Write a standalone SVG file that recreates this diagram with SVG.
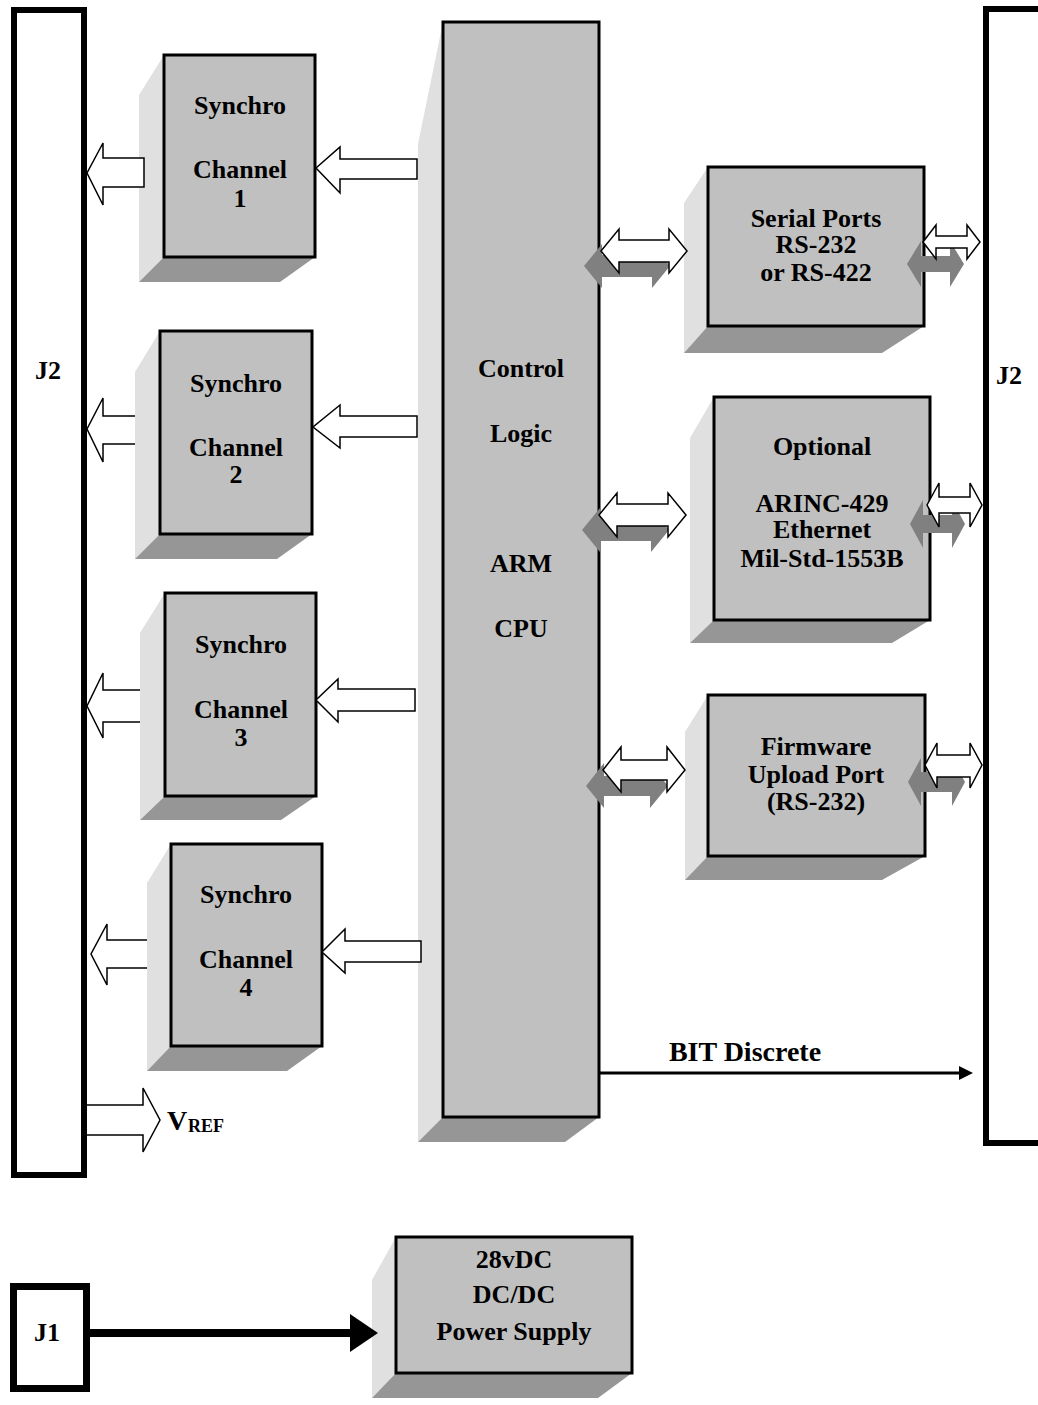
<svg xmlns="http://www.w3.org/2000/svg" width="1038" height="1405" viewBox="0 0 1038 1405">
<style>
.t{font-family:"Liberation Serif","Times New Roman",serif;font-weight:bold;font-size:26px;fill:#000;text-anchor:middle}
.front{fill:#c0c0c0;stroke:#000;stroke-width:3}
.lt{fill:#e0e0e0}
.dk{fill:#969696}
.bar{fill:#fff;stroke:#000;stroke-width:6}
.ha{fill:#fff;stroke:#000;stroke-width:1.5;stroke-linejoin:miter}
.ga{fill:#808080}
</style>
<rect width="1038" height="1405" fill="#fff"/>

<g id="j2-left">
<rect class="bar" x="14" y="10" width="70" height="1165"/>
<text class="t" x="48" y="379">J2</text>
</g>
<g id="j2-right">
<rect class="bar" x="986" y="9" width="70" height="1134"/>
<text class="t" x="1009" y="384">J2</text>
</g>

<g id="control-logic">
<polygon class="lt" points="418,144 443,22 443,1117 418,1142"/>
<polygon class="dk" points="418,1142 443,1117 599,1117 565,1142"/>
<rect class="front" x="443" y="22" width="156" height="1095"/>
<text class="t" x="521" y="377">Control</text>
<text class="t" x="521" y="442">Logic</text>
<text class="t" x="521" y="572">ARM</text>
<text class="t" x="521" y="637">CPU</text>
</g>

<g id="connectors-under">
<path class="ha" d="M150,416 L103,416 L103,398 L87,429 L103,462 L103,444 L150,444"/>
<path class="ha" d="M152,690 L103,690 L103,673 L87,706 L103,738 L103,722 L152,722"/>
<path class="ha" d="M160,940 L107,940 L107,924 L91,954 L107,985 L107,968 L160,968"/>
</g>

<g id="synchro-1">
<polygon class="lt" points="139,95 164,55 164,257 139,282"/>
<polygon class="dk" points="139,282 164,257 315,257 280,282"/>
<rect class="front" x="164" y="55" width="151" height="202"/>
<text class="t" x="240" y="114">Synchro</text>
<text class="t" x="240" y="178">Channel</text>
<text class="t" x="240" y="207">1</text>
</g>
<g id="synchro-2">
<polygon class="lt" points="135,372 160,331 160,534 135,559"/>
<polygon class="dk" points="135,559 160,534 312,534 277,559"/>
<rect class="front" x="160" y="331" width="152" height="203"/>
<text class="t" x="236" y="392">Synchro</text>
<text class="t" x="236" y="456">Channel</text>
<text class="t" x="236" y="483">2</text>
</g>
<g id="synchro-3">
<polygon class="lt" points="140,633 165,593 165,796 140,820"/>
<polygon class="dk" points="140,820 165,796 316,796 281,820"/>
<rect class="front" x="165" y="593" width="151" height="203"/>
<text class="t" x="241" y="653">Synchro</text>
<text class="t" x="241" y="718">Channel</text>
<text class="t" x="241" y="746">3</text>
</g>
<g id="synchro-4">
<polygon class="lt" points="147,883 171,844 171,1046 147,1071"/>
<polygon class="dk" points="147,1071 171,1046 322,1046 287,1071"/>
<rect class="front" x="171" y="844" width="151" height="202"/>
<text class="t" x="246" y="903">Synchro</text>
<text class="t" x="246" y="968">Channel</text>
<text class="t" x="246" y="996">4</text>
</g>

<g id="serial-ports">
<polygon class="lt" points="684,203 708,167 708,326 684,353"/>
<polygon class="dk" points="684,353 708,326 924,326 882,353"/>
<rect class="front" x="708" y="167" width="216" height="159"/>
<text class="t" x="816" y="227">Serial Ports</text>
<text class="t" x="816" y="253">RS-232</text>
<text class="t" x="816" y="281">or RS-422</text>
</g>
<g id="optional">
<polygon class="lt" points="690,438 714,397 714,620 690,643"/>
<polygon class="dk" points="690,643 714,620 930,620 892,643"/>
<rect class="front" x="714" y="397" width="216" height="223"/>
<text class="t" x="822" y="455">Optional</text>
<text class="t" x="822" y="512">ARINC-429</text>
<text class="t" x="822" y="538">Ethernet</text>
<text class="t" x="822" y="567">Mil-Std-1553B</text>
</g>
<g id="firmware">
<polygon class="lt" points="685,732 708,695 708,856 685,880"/>
<polygon class="dk" points="685,880 708,856 925,856 882,880"/>
<rect class="front" x="708" y="695" width="217" height="161"/>
<text class="t" x="816" y="755">Firmware</text>
<text class="t" x="816" y="783">Upload Port</text>
<text class="t" x="816" y="810">(RS-232)</text>
</g>

<g id="power-supply">
<polygon class="lt" points="372,1280 396,1237 396,1373 372,1398"/>
<polygon class="dk" points="372,1398 396,1373 632,1373 598,1398"/>
<rect class="front" x="396" y="1237" width="236" height="136"/>
<text class="t" x="514" y="1268">28vDC</text>
<text class="t" x="514" y="1303">DC/DC</text>
<text class="t" x="514" y="1340">Power Supply</text>
</g>

<g id="j1">
<rect x="13.5" y="1286.5" width="73" height="102" fill="#fff" stroke="#000" stroke-width="7"/>
<text class="t" x="47" y="1341">J1</text>
</g>

<g id="connectors">
<path class="ha" d="M144,158 L103,158 L103,143 L87,173 L103,205 L103,187 L144,187 Z"/>
<path class="ha" d="M417,159 L340,159 L340,147 L316,168 L340,193 L340,179 L417,179 Z"/>
<path class="ha" d="M417,416 L340,416 L340,405 L313,427 L340,448 L340,437 L417,437 Z"/>
<path class="ha" d="M415,689 L338,689 L338,679 L316,700 L338,722 L338,711 L415,711 Z"/>
<path class="ha" d="M421,941 L345,941 L345,929 L322,952 L345,973 L345,962 L421,962 Z"/>
<path class="ha" d="M87,1105 L143,1105 L143,1088 L160,1120 L143,1152 L143,1135 L87,1135"/>
<text x="167" y="1130" font-family="Liberation Serif, Times New Roman, serif" font-weight="bold" font-size="28">V</text>
<text x="188" y="1132" font-family="Liberation Serif, Times New Roman, serif" font-weight="bold" font-size="18">REF</text>
<path class="ga" transform="translate(-17,15)" d="M601,251 L619,229 L619,240 L669,240 L669,229 L687,251 L669,273 L669,262 L619,262 L619,273 Z"/>
<path class="ha" d="M601,251 L619,229 L619,240 L669,240 L669,229 L687,251 L669,273 L669,262 L619,262 L619,273 Z"/>
<path class="ga" d="M907,264 L921,241 L921,256 L950,256 L950,241 L964,264 L950,287 L950,272 L921,272 L921,287 Z"/>
<path class="ha" d="M923,242 L936,225 L936,236 L967,236 L967,225 L980,242 L967,259 L967,248 L936,248 L936,259 Z"/>
<path class="ga" transform="translate(-17,15)" d="M599,515 L617,493 L617,504 L668,504 L668,493 L686,515 L668,537 L668,526 L617,526 L617,537 Z"/>
<path class="ha" d="M599,515 L617,493 L617,504 L668,504 L668,493 L686,515 L668,537 L668,526 L617,526 L617,537 Z"/>
<path class="ga" d="M910,524 L923,500 L923,515 L952,515 L952,500 L965,524 L952,548 L952,533 L923,533 L923,548 Z"/>
<path class="ha" d="M927,505 L939,483 L939,497 L970,497 L970,483 L982,505 L970,527 L970,513 L939,513 L939,527 Z"/>
<path class="ga" transform="translate(-17,16)" d="M603,770 L621,747 L621,760 L667,760 L667,747 L685,770 L667,792 L667,780 L621,780 L621,792 Z"/>
<path class="ha" d="M603,770 L621,747 L621,760 L667,760 L667,747 L685,770 L667,792 L667,780 L621,780 L621,792 Z"/>
<path class="ga" d="M908,782 L921,758 L921,772 L952,772 L952,758 L965,782 L952,806 L952,792 L921,792 L921,806 Z"/>
<path class="ha" d="M925,765 L937,743 L937,755 L970,755 L970,743 L982,765 L970,788 L970,777 L937,777 L937,788 Z"/>
<line x1="599" y1="1073" x2="962" y2="1073" stroke="#000" stroke-width="3"/>
<polygon points="959,1066 973,1073 959,1080" fill="#000"/>
<text x="745" y="1061" font-family="Liberation Serif, Times New Roman, serif" font-weight="bold" font-size="28" text-anchor="middle">BIT Discrete</text>
<line x1="90" y1="1333" x2="352" y2="1333" stroke="#000" stroke-width="8"/>
<polygon points="350,1314 378,1333 350,1352" fill="#000"/>
</g>
</svg>
